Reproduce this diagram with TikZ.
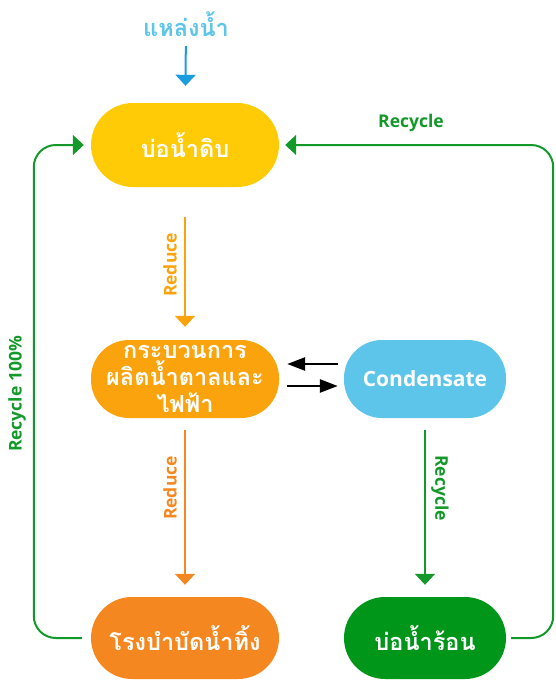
\documentclass[tikz,border=0pt]{standalone}
\usepackage{xcolor}
\usepackage{fontspec}
\setmainfont{Open Sans}
\newfontfamily\thaifont[Script=Thai]{Loma}
\usepackage{tikz}
\usetikzlibrary{positioning, calc, arrows.meta}
\definecolor{rawy}{HTML}{FECB06}
\definecolor{proc}{HTML}{FBA30C}
\definecolor{wast}{HTML}{F58720}
\definecolor{cond}{HTML}{5DC5EA}
\definecolor{hotg}{HTML}{00961A}
\definecolor{recy}{HTML}{13992A}
\definecolor{srcb}{HTML}{1A9DE0}

\begin{document}
\begin{tikzpicture}[x=1pt, y=-1pt,
  pond/.style={fill=#1, rounded corners=38pt, minimum width=188pt,
              minimum height=78pt, text=white, align=center,
              font=\thaifont\bfseries\fontsize{23.5}{27}\selectfont},
  elbl/.style={font=\bfseries\fontsize{17.5}{20}\selectfont\color{#1}},
  flow/.style={draw=#1, line width=2pt, -{Triangle[width=20pt,length=11pt]}}
]
  \useasboundingbox (0,0) rectangle (555,680);

  \node[font=\thaifont\bfseries\fontsize{23.5}{26}\selectfont, text=cond] (src) at (186,24) {แหล่งน้ำ};

  \node[pond=rawy, minimum height=84pt, rounded corners=42pt] (raw) at (185,145) {บ่อน้ำดิบ};
  \node[pond=proc] (mill) at (185,379) {กระบวนการ\\ผลิตน้ำตาลและ\\ไฟฟ้า};
  \node[pond=cond, minimum width=162pt, font=\bfseries\fontsize{21}{24}\selectfont] (cnd) at (425,379) {Condensate};
  \node[pond=wast, minimum height=82pt, rounded corners=41pt] (waste) at (185,638) {โรงบำบัดน้ำทิ้ง};
  \node[pond=hotg, minimum width=162pt, minimum height=82pt, rounded corners=41pt] (hot) at (425,638) {บ่อน้ำร้อน};

  % main flow
  \draw[flow=srcb, shorten <=6pt, shorten >=17pt] (src) -- (raw);
  \draw[flow=proc, shorten <=30pt, shorten >=13pt] (raw) -- (mill);
  \draw[flow=wast, shorten <=12pt, shorten >=12pt] (mill) -- (waste);
  \draw[flow=recy, shorten <=12pt, shorten >=12pt] (cnd) -- (hot);

  % exchange with condensate
  \draw[line width=2.6pt, -{Triangle[width=13pt,length=18pt]}, shorten <=6pt, shorten >=8pt]
    ([yshift=15pt]cnd.west) -- ([yshift=15pt]mill.east);
  \draw[line width=2.6pt, -{Triangle[width=13pt,length=18pt]}, shorten <=8pt, shorten >=6pt]
    ([yshift=-7pt]mill.east) -- ([yshift=-7pt]cnd.west);

  % recycle loops
  \draw[flow=recy, rounded corners=22pt, shorten <=9pt, shorten >=7pt]
    (waste.west) -- ++(-57,0) |- (raw.west);
  \draw[flow=recy, rounded corners=22pt, shorten <=5pt, shorten >=6pt]
    (hot.east) -- ++(47,0) |- (raw.east);

  \node[elbl=recy] (rtop) at (411,123) {Recycle};
  \node[elbl=recy, rotate=90] (rleft) at (17,394) {Recycle 100\%};
  \node[elbl=recy, rotate=-90] (rright) at (440,488) {Recycle};
  \node[elbl=proc, rotate=90] (red1) at (170,265) {Reduce};
  \node[elbl=wast, rotate=90] (red2) at (170,488) {Reduce};

\end{tikzpicture}
\end{document}
